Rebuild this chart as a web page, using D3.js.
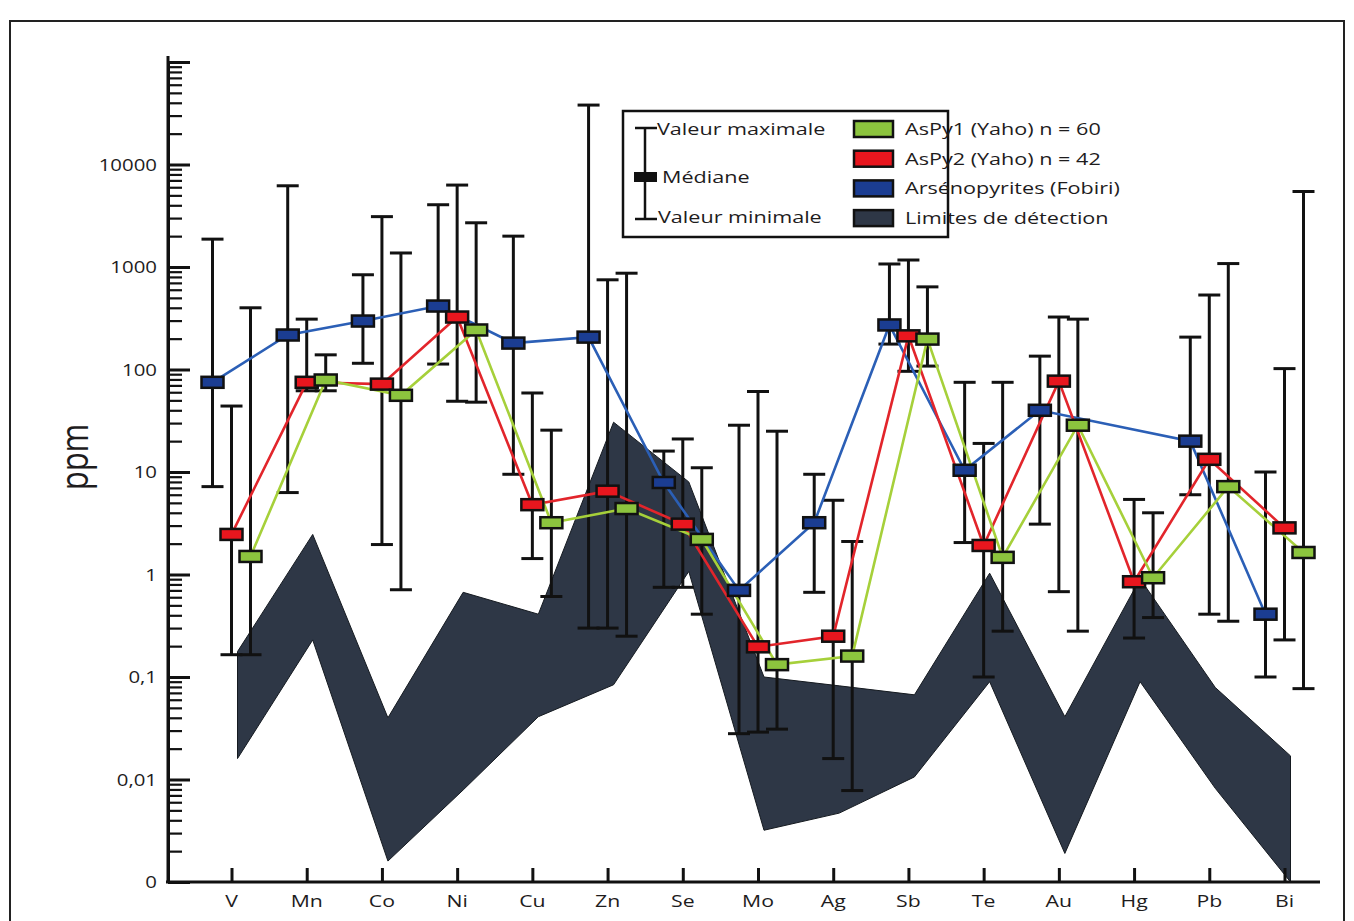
<!DOCTYPE html>
<html>
<head>
<meta charset="utf-8">
<script src="https://d3js.org/d3.v7.min.js"></script>
<style>
body { margin: 0; background: #fff; }
text { font-family: 'Open Sans', sans-serif; fill: #1e1c1d; }
</style>
</head>
<body>
<svg id="chart" width="1354" height="921"></svg>
<script>
// elements on the x axis
var elements = ['V', 'Mn', 'Co', 'Ni', 'Cu', 'Zn', 'Se', 'Mo', 'Ag', 'Sb', 'Te', 'Au', 'Hg', 'Pb', 'Bi'];

// Arsénopyrites (Fobiri) - median / max / min, ppm (no Hg value)
var fobiriMed = [75, 217, 297, 416, 181, 207, 7.9, 0.70, 3.2, 272, 10.4, 40, null, 20, 0.41];
var fobiriMax = [1870, 6200, 840, 4050, 2000, 38000, 16, 28.6, 9.5, 1070, 75, 135, null, 207, 10];
var fobiriMin = [7.2, 6.3, 115, 113, 9.5, 0.30, 0.75, 0.028, 0.67, 177, 2.05, 3.1, null, 6, 0.10];

// AsPy2 (Yaho) n = 42
var aspy2Med = [2.46, 75, 72, 325, 4.8, 6.5, 3.1, 0.197, 0.25, 213, 1.92, 77, 0.85, 13.3, 2.85];
var aspy2Max = [44, 310, 3100, 6300, 59, 750, 21, 61, 5.3, 1170, 19, 325, 5.4, 533, 102];
var aspy2Min = [0.165, 62, 1.96, 49, 1.43, 0.30, 0.75, 0.029, 0.016, 96, 0.10, 0.68, 0.24, 0.41, 0.23];

// AsPy1 (Yaho) n = 60
var aspy1Med = [1.5, 79, 56, 243, 3.2, 4.4, 2.2, 0.132, 0.16, 198, 1.47, 28.6, 0.93, 7.2, 1.64];
var aspy1Max = [400, 139, 1370, 2700, 25.6, 870, 11, 25, 2.1, 640, 75, 310, 4.0, 1080, 5450];
var aspy1Min = [0.165, 62, 0.71, 48, 0.61, 0.25, 0.41, 0.031, 0.0078, 108, 0.28, 0.28, 0.38, 0.35, 0.077];

// limites de détection (band)
var limitHigh = [0.177, 2.46, 0.04, 0.67, 0.41, 30.6, 8, 0.1, 0.082, 0.067, 1.03, 0.041, 0.91, 0.079, 0.017];
var limitLow = [0.016, 0.23, 0.0016, 0.0079, 0.041, 0.084, 1.07, 0.0032, 0.0047, 0.0106, 0.09, 0.0019, 0.09, 0.0082, 0.001];

var yTickValues = [0.001, 0.01, 0.1, 1, 10, 100, 1000, 10000];
var yTickLabels = ['0', '0,01', '0,1', '1', '10', '100', '1000', '10000'];

var svg = d3.select('#chart');

var xs = d3.scalePoint().domain(elements).range([231.5, 1284.5]);
var ys = d3.scaleLog().domain([0.001, 100000]).range([882, 62]);

// text is a little wide in the original, stretch it horizontally
function label(x, y, str, size, anchor, sx) {
  return svg.append('text')
    .attr('transform', 'translate(' + x + ',' + y + ') scale(' + sx + ',1)')
    .attr('text-anchor', anchor)
    .style('font-size', size + 'px')
    .text(str);
}

// frame
svg.append('rect')
  .attr('x', 10).attr('y', 21).attr('width', 1334).attr('height', 940)
  .attr('fill', 'none').attr('stroke', '#222').attr('stroke-width', 2);

// detection limit band
var band = elements.map(function(e, i) { return {el: e, hi: limitHigh[i], lo: limitLow[i]}; });
svg.append('path')
  .datum(band)
  .attr('d', d3.area()
    .x(function(d) { return xs(d.el) + 6; })
    .y0(function(d) { return ys(d.lo); })
    .y1(function(d) { return ys(d.hi); }))
  .attr('fill', '#2e3746')
  .attr('stroke', '#151a20')
  .attr('stroke-width', 1);

// axes
var yMinor = [];
for (var p = -3; p < 5; p++) {
  for (var k = 2; k <= 9; k++) yMinor.push(k * Math.pow(10, p));
}
svg.append('g')
  .attr('transform', 'translate(168,0)')
  .call(d3.axisLeft(ys).tickValues(yMinor).tickSize(-14).tickSizeOuter(0).tickFormat(''))
  .call(function(g) { g.select('.domain').remove(); g.selectAll('line').attr('stroke-width', 2.2).attr('stroke', '#111'); });
svg.append('g')
  .attr('transform', 'translate(168,0)')
  .call(d3.axisLeft(ys).tickValues(yTickValues.concat([100000])).tickSize(-22).tickSizeOuter(0).tickFormat(''))
  .call(function(g) {
    g.select('.domain').attr('stroke-width', 3).attr('stroke', '#111');
    g.selectAll('line').attr('stroke-width', 3).attr('stroke', '#111');
  });
svg.append('line')
  .attr('x1', 168).attr('x2', 168).attr('y1', 56).attr('y2', 882)
  .attr('stroke', '#111').attr('stroke-width', 3);

yTickValues.forEach(function(v, i) {
  label(157, ys(v) + 6, yTickLabels[i], 17, 'end', 1.2);
});

svg.append('g')
  .attr('transform', 'translate(0,' + ys(0.001) + ')')
  .call(d3.axisBottom(xs).tickSize(-14).tickSizeOuter(0).tickFormat(''))
  .call(function(g) {
    g.select('.domain').remove();
    g.selectAll('line').attr('stroke-width', 3).attr('stroke', '#111');
  });
svg.append('line')
  .attr('x1', 166).attr('x2', 1320).attr('y1', ys(0.001)).attr('y2', ys(0.001))
  .attr('stroke', '#111').attr('stroke-width', 3);

elements.forEach(function(e) {
  label(xs(e), 907, e, 17, 'middle', 1.25);
});

label(0, 0, 'ppm', 31, 'middle', 1)
  .attr('transform', 'translate(88,457) scale(1.25,1) rotate(-90)');

// series
var series = [
  {name: 'Arsénopyrites (Fobiri)', med: fobiriMed, max: fobiriMax, min: fobiriMin, dx: -19, line: '#2b5fb6', fill: '#1b3d92'},
  {name: 'AsPy2 (Yaho) n = 42', med: aspy2Med, max: aspy2Max, min: aspy2Min, dx: 0, line: '#e2252b', fill: '#e8161e'},
  {name: 'AsPy1 (Yaho) n = 60', med: aspy1Med, max: aspy1Max, min: aspy1Min, dx: 19, line: '#a6d03a', fill: '#8cc43e'}
];
series.forEach(function(s) {
  s.pts = elements.map(function(e, i) {
    return {el: e, med: s.med[i], max: s.max[i], min: s.min[i]};
  }).filter(function(d) { return d.med != null; });
});

var lineGen = d3.line()
  .x(function(d) { return xs(d.el); })
  .y(function(d) { return ys(d.med); });

// error bars
series.forEach(function(s) {
  var g = svg.append('g').attr('transform', 'translate(' + s.dx + ',0)');
  var bars = g.selectAll('g.bar').data(s.pts).enter().append('g').attr('class', 'bar');
  bars.append('line')
    .attr('x1', function(d) { return xs(d.el); }).attr('x2', function(d) { return xs(d.el); })
    .attr('y1', function(d) { return ys(d.min); }).attr('y2', function(d) { return ys(d.max); })
    .attr('stroke', '#111').attr('stroke-width', 3);
  ['min', 'max'].forEach(function(key) {
    bars.append('line')
      .attr('x1', function(d) { return xs(d.el) - 11; }).attr('x2', function(d) { return xs(d.el) + 11; })
      .attr('y1', function(d) { return ys(d[key]); }).attr('y2', function(d) { return ys(d[key]); })
      .attr('stroke', '#111').attr('stroke-width', 3);
  });
});

// lines
series.forEach(function(s) {
  svg.append('path')
    .datum(s.pts)
    .attr('transform', 'translate(' + s.dx + ',0)')
    .attr('d', lineGen)
    .attr('fill', 'none')
    .attr('stroke', s.line)
    .attr('stroke-width', 2.6);
});

// medians
series.forEach(function(s) {
  svg.append('g')
    .attr('transform', 'translate(' + s.dx + ',0)')
    .selectAll('rect').data(s.pts).enter().append('rect')
      .attr('x', function(d) { return xs(d.el) - 11; })
      .attr('y', function(d) { return ys(d.med) - 5.5; })
      .attr('width', 22).attr('height', 11)
      .attr('fill', s.fill)
      .attr('stroke', '#111').attr('stroke-width', 2.5);
});

// legend
var lg = svg.append('g');
lg.append('rect')
  .attr('x', 623).attr('y', 111).attr('width', 325).attr('height', 126)
  .attr('fill', '#fff').attr('stroke', '#111').attr('stroke-width', 2.5);
lg.append('line').attr('x1', 645).attr('x2', 645).attr('y1', 128).attr('y2', 219).attr('stroke', '#111').attr('stroke-width', 2.5);
lg.append('line').attr('x1', 635).attr('x2', 657).attr('y1', 128).attr('y2', 128).attr('stroke', '#111').attr('stroke-width', 2.5);
lg.append('line').attr('x1', 635).attr('x2', 657).attr('y1', 219).attr('y2', 219).attr('stroke', '#111').attr('stroke-width', 2.5);
lg.append('rect').attr('x', 634).attr('y', 172).attr('width', 23).attr('height', 10).attr('fill', '#111');
label(657, 135, 'Valeur maximale', 17, 'start', 1.27);
label(662, 183, 'Médiane', 17, 'start', 1.27);
label(658, 223, 'Valeur minimale', 17, 'start', 1.27);

var legendItems = [
  {name: series[2].name, fill: series[2].fill},
  {name: series[1].name, fill: series[1].fill},
  {name: series[0].name, fill: series[0].fill},
  {name: 'Limites de détection', fill: '#2e3746'}
];
legendItems.forEach(function(d, i) {
  var cy = 129 + i * 29.7;
  lg.append('rect')
    .attr('x', 854).attr('y', cy - 8).attr('width', 39).attr('height', 16)
    .attr('fill', d.fill).attr('stroke', '#111').attr('stroke-width', 2.5);
  label(905, cy + 6, d.name, 17, 'start', 1.27);
});
</script>
</body>
</html>
